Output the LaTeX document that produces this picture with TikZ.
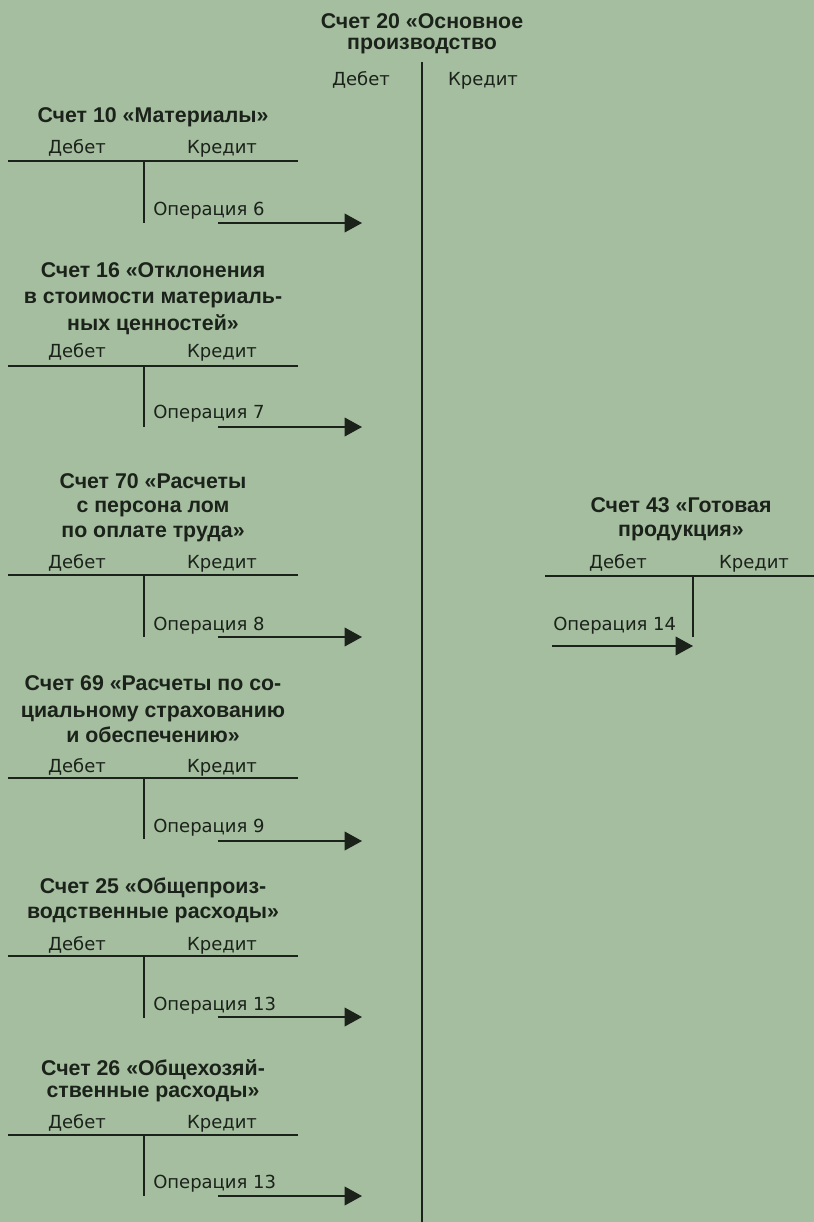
\documentclass[tikz,border=0pt]{standalone}
\usepackage{fontspec}
\setmainfont{DejaVu Sans}
\newfontfamily\titlefont{Liberation Sans}[BoldFont={Liberation Sans Bold}]
\usetikzlibrary{arrows.meta}
\definecolor{bgcol}{RGB}{166,190,160}
\definecolor{ink}{RGB}{26,34,26}
\tikzset{
  ttl/.style={anchor=base,inner sep=0pt,text=ink,font=\titlefont\bfseries\fontsize{16}{19}\selectfont},
  lbl/.style={anchor=base,inner sep=0pt,text=ink,font=\fontsize{13.5}{16}\selectfont},
  oplbl/.style={anchor=base west,inner sep=0pt,text=ink,font=\fontsize{13.5}{16}\selectfont},
  rule/.style={draw=ink,line width=1.5pt},
  stem/.style={draw=ink,line width=1.3pt},
  flow/.style={draw=ink,line width=1.1pt,-{Triangle[length=13pt,width=14pt]}}
}
\begin{document}
\begin{tikzpicture}[x=0.75pt,y=-0.75pt]
\useasboundingbox (0,0) rectangle (814,1222);
\fill[bgcol] (0,0) rectangle (814,1222);

% ---- Main account 20
\node[ttl] (t20a) at (422,28) {Счет 20 «Основное};
\node[ttl] (t20b) at (422,49) {производство};
\node[lbl] (d20) at (361,85) {Дебет};
\node[lbl] (k20) at (483,85) {Кредит};
\coordinate (m20top) at (422,62);
\coordinate (m20bot) at (422,1222);
\draw[stem] (m20top) -- (m20bot);

% ---- Account 10
\node[ttl] (t10a) at (153,122) {Счет 10 «Материалы»};
\node[lbl] (d10) at (77,153) {Дебет};
\node[lbl] (k10) at (222,153) {Кредит};
\coordinate (h10l) at (8,161); \coordinate (h10r) at (298,161);
\coordinate (v10t) at (144,161); \coordinate (v10b) at (144,223);
\draw[rule] (h10l) -- (h10r);
\draw[stem] (v10t) -- (v10b);
\node[oplbl] (o10) at (153,215) {Операция 6};
\coordinate (a10s) at (218,223); \coordinate (a10e) at (362,223);
\draw[flow] (a10s) -- (a10e);

% ---- Account 16
\node[ttl] (t16a) at (153,277) {Счет 16 «Отклонения};
\node[ttl] (t16b) at (153,303) {в стоимости материаль-};
\node[ttl] (t16c) at (153,330) {ных ценностей»};
\node[lbl] (d16) at (77,357) {Дебет};
\node[lbl] (k16) at (222,357) {Кредит};
\coordinate (h16l) at (8,366); \coordinate (h16r) at (298,366);
\coordinate (v16t) at (144,366); \coordinate (v16b) at (144,427);
\draw[rule] (h16l) -- (h16r);
\draw[stem] (v16t) -- (v16b);
\node[oplbl] (o16) at (153,418) {Операция 7};
\coordinate (a16s) at (218,427); \coordinate (a16e) at (362,427);
\draw[flow] (a16s) -- (a16e);

% ---- Account 70
\node[ttl] (t70a) at (153,488) {Счет 70 «Расчеты};
\node[ttl] (t70b) at (153,512) {с персона лом};
\node[ttl] (t70c) at (153,537) {по оплате труда»};
\node[lbl] (d70) at (77,568) {Дебет};
\node[lbl] (k70) at (222,568) {Кредит};
\coordinate (h70l) at (8,575); \coordinate (h70r) at (298,575);
\coordinate (v70t) at (144,575); \coordinate (v70b) at (144,637);
\draw[rule] (h70l) -- (h70r);
\draw[stem] (v70t) -- (v70b);
\node[oplbl] (o70) at (153,630) {Операция 8};
\coordinate (a70s) at (218,637); \coordinate (a70e) at (362,637);
\draw[flow] (a70s) -- (a70e);

% ---- Account 69
\node[ttl] (t69a) at (153,690) {Счет 69 «Расчеты по со-};
\node[ttl] (t69b) at (153,717) {циальному страхованию};
\node[ttl] (t69c) at (153,742) {и обеспечению»};
\node[lbl] (d69) at (77,772) {Дебет};
\node[lbl] (k69) at (222,772) {Кредит};
\coordinate (h69l) at (8,778); \coordinate (h69r) at (298,778);
\coordinate (v69t) at (144,778); \coordinate (v69b) at (144,839);
\draw[rule] (h69l) -- (h69r);
\draw[stem] (v69t) -- (v69b);
\node[oplbl] (o69) at (153,832) {Операция 9};
\coordinate (a69s) at (218,841); \coordinate (a69e) at (362,841);
\draw[flow] (a69s) -- (a69e);

% ---- Account 25
\node[ttl] (t25a) at (153,893) {Счет 25 «Общепроиз-};
\node[ttl] (t25b) at (153,918) {водственные расходы»};
\node[lbl] (d25) at (77,950) {Дебет};
\node[lbl] (k25) at (222,950) {Кредит};
\coordinate (h25l) at (8,956); \coordinate (h25r) at (298,956);
\coordinate (v25t) at (144,956); \coordinate (v25b) at (144,1018);
\draw[rule] (h25l) -- (h25r);
\draw[stem] (v25t) -- (v25b);
\node[oplbl] (o25) at (153,1010) {Операция 13};
\coordinate (a25s) at (218,1017); \coordinate (a25e) at (362,1017);
\draw[flow] (a25s) -- (a25e);

% ---- Account 26
\node[ttl] (t26a) at (153,1075) {Счет 26 «Общехозяй-};
\node[ttl] (t26b) at (153,1097) {ственные расходы»};
\node[lbl] (d26) at (77,1128) {Дебет};
\node[lbl] (k26) at (222,1128) {Кредит};
\coordinate (h26l) at (8,1135); \coordinate (h26r) at (298,1135);
\coordinate (v26t) at (144,1135); \coordinate (v26b) at (144,1196);
\draw[rule] (h26l) -- (h26r);
\draw[stem] (v26t) -- (v26b);
\node[oplbl] (o26) at (153,1188) {Операция 13};
\coordinate (a26s) at (218,1196); \coordinate (a26e) at (362,1196);
\draw[flow] (a26s) -- (a26e);

% ---- Account 43
\node[ttl] (t43a) at (681,512) {Счет 43 «Готовая};
\node[ttl] (t43b) at (681,536) {продукция»};
\node[lbl] (d43) at (618,568) {Дебет};
\node[lbl] (k43) at (754,568) {Кредит};
\coordinate (h43l) at (545,576); \coordinate (h43r) at (814,576);
\coordinate (v43t) at (693,576); \coordinate (v43b) at (693,637);
\draw[rule] (h43l) -- (h43r);
\draw[stem] (v43t) -- (v43b);
\node[oplbl] (o43) at (553,630) {Операция 14};
\coordinate (a43s) at (552,646); \coordinate (a43e) at (693,646);
\draw[flow] (a43s) -- (a43e);
\end{tikzpicture}
\end{document}
